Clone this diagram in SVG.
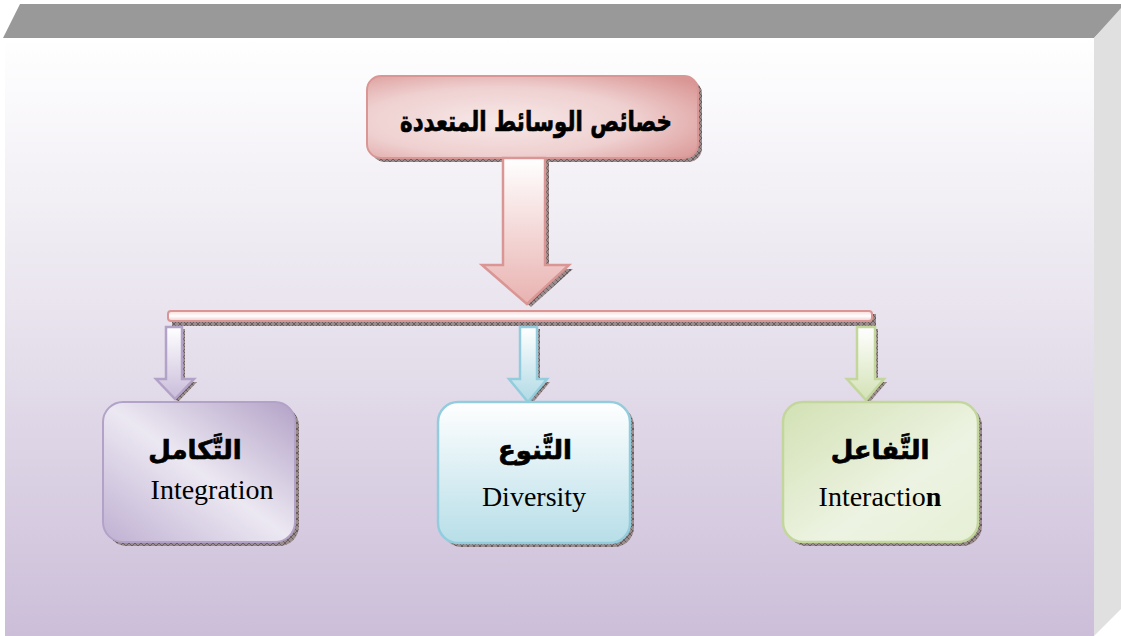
<svg xmlns="http://www.w3.org/2000/svg" width="1121" height="636" viewBox="0 0 1121 636">
  <defs>
    <linearGradient id="bg" x1="0" y1="0" x2="0" y2="1">
      <stop offset="0" stop-color="#FFFFFF"/>
      <stop offset="0.45" stop-color="#E9E4EE"/>
      <stop offset="1" stop-color="#CCBED9"/>
    </linearGradient>
    <pattern id="hatch" width="6" height="6" patternUnits="userSpaceOnUse">
      <rect width="6" height="6" fill="#9A8C8C"/>
      <path d="M0 0L6 6M6 0L0 6" stroke="#5E5050" stroke-width="0.8"/>
    </pattern>
    <radialGradient id="gTop" cx="0.4" cy="0.55" r="0.75">
      <stop offset="0" stop-color="#F7E8E8"/>
      <stop offset="0.55" stop-color="#EFD0D0"/>
      <stop offset="1" stop-color="#D99694"/>
    </radialGradient>
    <linearGradient id="gArrowTop" x1="0" y1="0" x2="0" y2="1">
      <stop offset="0" stop-color="#FFFFFF"/>
      <stop offset="1" stop-color="#E8B2B0"/>
    </linearGradient>
    <linearGradient id="gBar" x1="0" y1="0" x2="0" y2="1">
      <stop offset="0" stop-color="#F4D9D8"/>
      <stop offset="0.5" stop-color="#FFFFFF"/>
      <stop offset="1" stop-color="#F0CCCB"/>
    </linearGradient>
    <linearGradient id="gArrowP" x1="0" y1="0" x2="0" y2="1">
      <stop offset="0" stop-color="#FFFFFF"/>
      <stop offset="1" stop-color="#C9BCDA"/>
    </linearGradient>
    <linearGradient id="gArrowB" x1="0" y1="0" x2="0" y2="1">
      <stop offset="0" stop-color="#FFFFFF"/>
      <stop offset="1" stop-color="#B0DAE5"/>
    </linearGradient>
    <linearGradient id="gArrowG" x1="0" y1="0" x2="0" y2="1">
      <stop offset="0" stop-color="#FFFFFF"/>
      <stop offset="1" stop-color="#D3E2B6"/>
    </linearGradient>
    <linearGradient id="gPurple" x1="1" y1="0" x2="0" y2="1">
      <stop offset="0" stop-color="#B3A2C7"/>
      <stop offset="0.5" stop-color="#ECE8F2"/>
      <stop offset="1" stop-color="#BFB0D2"/>
    </linearGradient>
    <linearGradient id="gBlue" x1="0" y1="0" x2="0" y2="1">
      <stop offset="0" stop-color="#FFFFFF"/>
      <stop offset="1" stop-color="#B7DEE8"/>
    </linearGradient>
    <linearGradient id="gGreen" x1="0" y1="0" x2="1" y2="1">
      <stop offset="0" stop-color="#D2E1B4"/>
      <stop offset="0.6" stop-color="#EDF3E2"/>
      <stop offset="1" stop-color="#E6EFD6"/>
    </linearGradient>
  </defs>
  <style>
    .ar { font-family: "DejaVu Sans", "Noto Sans", sans-serif; font-weight: bold; fill: #000; stroke: #000; stroke-width: 0.7; text-anchor: middle; }
    .en { font-family: "Liberation Serif", "Times New Roman", serif; fill: #000; text-anchor: middle; font-size: 28px; }
    .shadow { fill: url(#hatch); }
  </style>

  <!-- frame: top slab, side slab, face -->
  <polygon points="20,4 1121,4 1121,10 1094,38 3,38" fill="#999999"/>
  <polygon points="1094,38 1121,8 1121,609 1094,636" fill="#E0E0E0"/>
  <rect x="5" y="38" width="1089" height="598" fill="url(#bg)"/>

  <!-- title node -->
  <g id="node-title">
    <rect x="371" y="80" width="331" height="82" rx="14" class="shadow"/>
    <rect x="367" y="76" width="331" height="82" rx="14" fill="url(#gTop)" stroke="#D99694" stroke-width="2"/>
    <text x="536" y="131" class="ar" font-size="28" direction="rtl" textLength="272" lengthAdjust="spacingAndGlyphs">خصائص الوسائط المتعددة</text>
  </g>

  <!-- connectors -->
  <g id="connectors">
    <!-- main down arrow -->
    <polygon points="507,160 549,160 549,269 573,269 531,307 486,269 507,269" class="shadow"/>
    <polygon points="503,158 545,158 545,265 569,265 527,304 482,265 503,265" fill="url(#gArrowTop)" stroke="#D99694" stroke-width="2.5" stroke-linejoin="miter"/>
    <!-- horizontal bar -->
    <rect x="172" y="314" width="704" height="12" class="shadow"/>
    <rect x="168" y="311" width="704" height="10" rx="3" fill="url(#gBar)" stroke="#D99694" stroke-width="2"/>
    <!-- purple arrow -->
    <polygon points="169,329 185,329 185,382 197,382 178,402 159,382 169,382" class="shadow"/>
    <polygon points="166,327 182,327 182,379 194,379 175,399 156,379 166,379" fill="url(#gArrowP)" stroke="#B3A2C7" stroke-width="2.5"/>
    <!-- blue arrow -->
    <polygon points="523,329 540,329 540,382 550,382 531,405 512,382 523,382" class="shadow"/>
    <polygon points="520,327 537,327 537,379 547,379 528,402 509,379 520,379" fill="url(#gArrowB)" stroke="#93CDDD" stroke-width="2.5"/>
    <!-- green arrow -->
    <polygon points="860,329 878,329 878,382 887,382 869,403 850,382 860,382" class="shadow"/>
    <polygon points="857,327 875,327 875,379 884,379 866,400 847,379 857,379" fill="url(#gArrowG)" stroke="#C3D69B" stroke-width="2.5"/>
  </g>

  <!-- integration node -->
  <g id="node-integration">
    <rect x="107" y="406" width="192" height="140" rx="20" class="shadow"/>
    <rect x="103" y="402" width="192" height="140" rx="20" fill="url(#gPurple)" stroke="#B3A2C7" stroke-width="2"/>
    <text x="195" y="459" class="ar" font-size="26" direction="rtl">التَّكامل</text>
    <text x="212" y="499" class="en" font-size="27">Integration</text>
  </g>

  <!-- diversity node -->
  <g id="node-diversity">
    <rect x="442" y="406" width="192" height="141" rx="20" class="shadow"/>
    <rect x="438" y="402" width="192" height="141" rx="20" fill="url(#gBlue)" stroke="#93CDDD" stroke-width="2.5"/>
    <text x="535" y="459" class="ar" font-size="26" direction="rtl">التَّنوع</text>
    <text x="534" y="506" class="en">Diversity</text>
  </g>

  <!-- interaction node -->
  <g id="node-interaction">
    <rect x="787" y="406" width="195" height="140" rx="20" class="shadow"/>
    <rect x="783" y="402" width="195" height="140" rx="20" fill="url(#gGreen)" stroke="#C3D69B" stroke-width="2.5"/>
    <text x="880" y="459" class="ar" font-size="26" direction="rtl">التَّفاعل</text>
    <text x="880" y="506" class="en">Interactio<tspan font-weight="bold">n</tspan></text>
  </g>
</svg>
